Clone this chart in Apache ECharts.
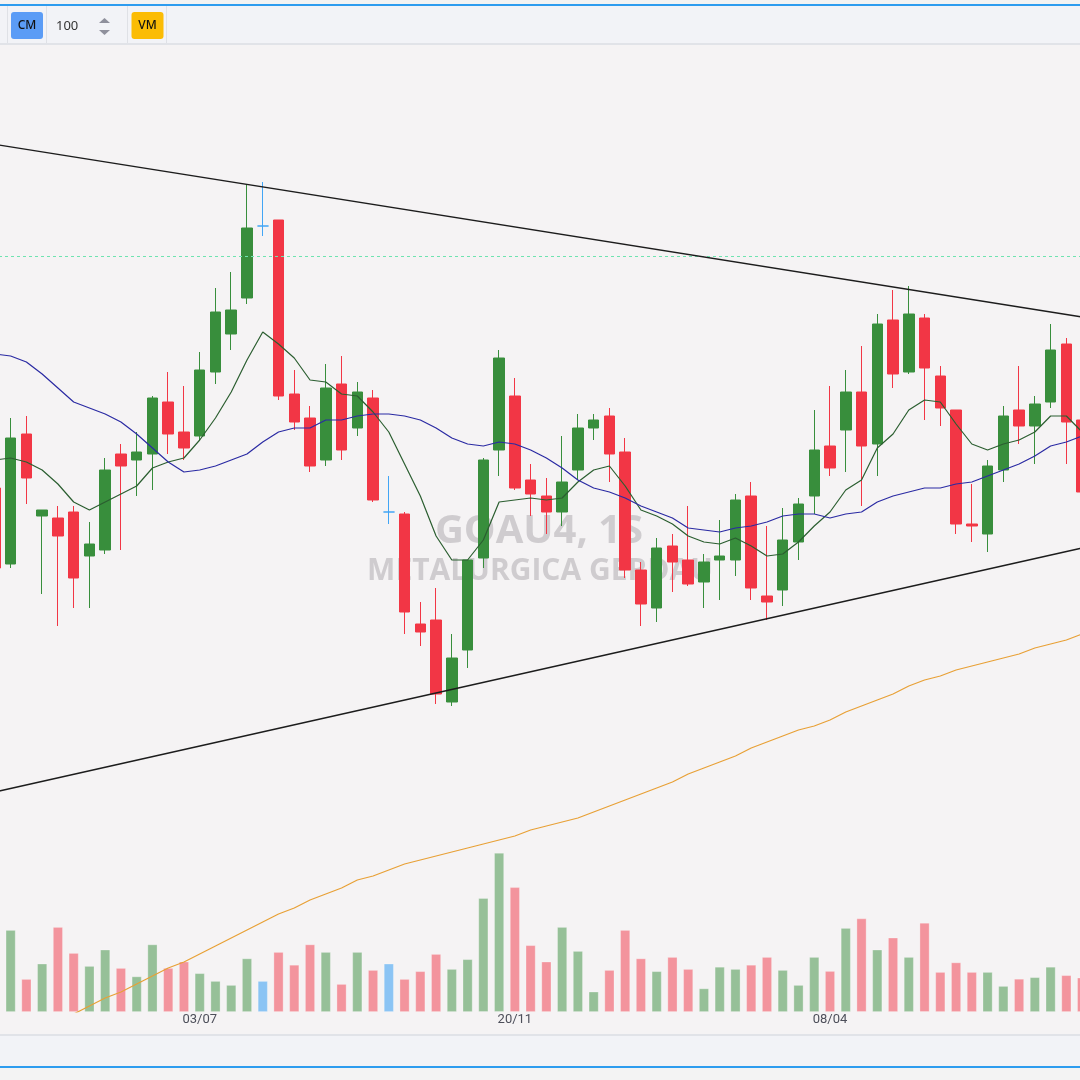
<!DOCTYPE html>
<html>
<head>
<meta charset="utf-8">
<script src="https://cdn.jsdelivr.net/npm/echarts@6/dist/echarts.min.js"></script>
<style>
html,body{margin:0;padding:0;background:#f5f3f4;overflow:hidden;width:1080px;height:1080px;position:relative}
#chart{position:absolute;left:-13px;top:0;width:1103px;height:1080px}
</style>
</head>
<body>
<div id="chart"></div>
<script>
// Weekly candles (GOAU4, 1S)
const DATES = ['03/04','10/04','17/04','24/04','01/05','08/05','15/05','22/05','29/05','05/06','12/06','19/06','26/06',
  '03/07','10/07','17/07','24/07','31/07','07/08','14/08','21/08','28/08','04/09','11/09','18/09','25/09',
  '02/10','09/10','16/10','23/10','30/10','06/11','13/11','20/11','27/11','04/12','11/12','18/12','25/12',
  '01/01','08/01','15/01','22/01','29/01','05/02','12/02','19/02','26/02','04/03','11/03','18/03','25/03',
  '01/04','08/04','15/04','22/04','29/04','06/05','13/05','20/05','27/05','03/06','10/06','17/06','24/06',
  '01/07','08/07','15/07','22/07','29/07'];
const OPEN  = [11.56,11.18,11.83,11.42,11.41,11.44,11.22,11.25,11.73,11.70,11.73,11.99,11.84,11.82,12.14,12.33,12.51,12.87,12.90,12.03,11.91,11.70,12.08,11.86,12.01,11.44,11.43,10.88,10.90,10.49,10.75,11.21,11.75,12.02,11.60,11.52,11.44,11.65,11.86,11.92,11.74,11.15,10.96,11.27,11.20,11.09,11.20,11.20,11.52,11.02,11.05,11.29,11.52,11.77,11.85,12.04,11.78,12.40,12.14,12.41,12.12,11.95,11.38,11.33,11.65,11.95,11.87,11.99,12.28,11.90];
const CLOSE = [11.16,11.81,11.61,11.45,11.32,11.11,11.28,11.65,11.67,11.74,12.01,11.83,11.76,12.15,12.44,12.45,12.86,12.87,12.02,11.89,11.67,12.06,11.75,12.04,11.50,11.44,10.94,10.84,10.53,10.71,11.20,11.70,12.21,11.56,11.53,11.44,11.59,11.86,11.90,11.73,11.15,10.98,11.26,11.19,11.08,11.19,11.22,11.50,11.06,10.99,11.30,11.48,11.75,11.66,12.04,11.77,12.38,12.13,12.43,12.16,11.96,11.38,11.37,11.67,11.92,11.87,11.98,12.25,11.89,11.54];
const LOW   = [11.10,11.16,11.48,11.03,10.87,10.96,10.96,11.23,11.25,11.52,11.55,11.73,11.70,11.80,12.08,12.25,12.48,12.82,12.00,11.85,11.64,11.67,11.70,11.82,11.49,11.38,10.83,10.77,10.48,10.47,10.66,11.16,11.62,11.55,11.42,11.33,11.37,11.60,11.80,11.59,11.11,10.87,10.89,11.04,11.07,10.96,11.00,11.12,11.00,10.90,10.97,11.20,11.43,11.62,11.64,11.47,11.62,12.06,12.13,11.90,11.87,11.33,11.29,11.24,11.59,11.78,11.68,11.96,11.68,11.50];
const HIGH  = [11.65,11.91,11.92,11.45,11.47,11.47,11.39,11.71,11.78,11.84,12.02,12.14,12.07,12.24,12.56,12.64,13.08,13.09,12.90,12.15,11.97,12.18,12.22,12.09,12.05,11.62,11.44,10.99,11.06,10.83,11.20,11.71,12.25,12.11,11.68,11.61,11.82,11.93,11.93,11.96,11.81,11.19,11.31,11.33,11.47,11.23,11.40,11.53,11.59,11.37,11.46,11.51,11.95,12.07,12.15,12.27,12.43,12.55,12.57,12.43,12.17,11.95,11.58,11.70,11.97,12.17,12.02,12.38,12.31,11.93];
// Volume, millions
const VOLUME = [12.0,20.5,8.25,12.1,21.25,14.75,11.5,15.6,11.0,8.9,16.9,11.0,12.6,9.7,7.75,6.75,13.4,7.75,15.0,11.8,16.9,15.0,7.0,15.0,10.5,12.1,8.25,10.2,14.5,10.75,13.2,28.5,39.8,31.2,16.7,12.6,21.25,15.25,5.1,10.5,20.5,13.4,10.2,13.75,10.75,5.9,11.3,10.75,11.8,13.75,10.5,6.75,13.75,10.25,21.0,23.4,15.6,18.6,13.75,22.3,10.0,12.4,10.0,10.0,6.5,8.3,8.7,11.3,9.2,8.6];
// Moving averages
const MA_SHORT = [11.70,11.71,11.69,11.65,11.58,11.49,11.45,11.49,11.53,11.57,11.66,11.69,11.71,11.80,11.91,12.04,12.20,12.34,12.28,12.21,12.10,12.09,12.03,12.02,11.94,11.84,11.68,11.52,11.32,11.20,11.20,11.30,11.49,11.50,11.51,11.50,11.51,11.59,11.65,11.67,11.57,11.45,11.42,11.38,11.32,11.29,11.28,11.31,11.27,11.22,11.23,11.29,11.37,11.44,11.55,11.60,11.76,11.83,11.95,12.00,11.99,11.88,11.78,11.75,11.78,11.80,11.84,11.92,11.92,11.84];
const MA_MID   = [12.23,12.22,12.19,12.13,12.06,11.99,11.96,11.93,11.89,11.83,11.76,11.69,11.64,11.65,11.67,11.70,11.73,11.79,11.84,11.86,11.86,11.90,11.90,11.92,11.93,11.93,11.92,11.90,11.86,11.81,11.78,11.77,11.79,11.78,11.75,11.71,11.66,11.60,11.56,11.54,11.51,11.47,11.44,11.41,11.36,11.35,11.34,11.36,11.37,11.39,11.42,11.43,11.43,11.41,11.43,11.44,11.49,11.52,11.54,11.56,11.56,11.58,11.59,11.62,11.65,11.68,11.72,11.77,11.79,11.82];
const MA_LONG  = [null,null,null,null,8.89,8.93,8.97,9.01,9.04,9.08,9.12,9.16,9.19,9.23,9.27,9.31,9.35,9.39,9.43,9.46,9.50,9.53,9.56,9.60,9.62,9.65,9.68,9.70,9.72,9.74,9.76,9.78,9.80,9.82,9.85,9.87,9.89,9.91,9.94,9.97,10.00,10.03,10.06,10.09,10.13,10.16,10.19,10.22,10.26,10.29,10.32,10.35,10.37,10.40,10.44,10.47,10.50,10.53,10.57,10.60,10.62,10.65,10.67,10.69,10.71,10.73,10.76,10.78,10.80,10.83];
// Trend lines: value at first and last visible week
const TREND_UPPER = [13.278, 12.415];
const TREND_LOWER = [10.04, 11.26];
const ALERT_PRICE = 12.72;
const TICK_LABELS = ['03/07','20/11','08/04'];
const WATERMARK_SYMBOL = 'GOAU4, 1S';
const WATERMARK_NAME = 'METALURGICA GERDAU';

const UP = '#388e3c', DOWN = '#f23645', DOJI = '#42a5f5';

const candleData = DATES.map((d, i) => {
  const v = [OPEN[i], CLOSE[i], LOW[i], HIGH[i]];
  if (OPEN[i] === CLOSE[i]) {
    return {value: v, itemStyle: {color: DOJI, color0: DOJI, borderColor: DOJI, borderColor0: DOJI, borderColorDoji: DOJI}};
  }
  return v;
});
const volData = VOLUME.map((v, i) => {
  let c = 'rgba(33,150,243,0.5)';
  if (CLOSE[i] > OPEN[i]) c = 'rgba(56,142,60,0.5)';
  else if (CLOSE[i] < OPEN[i]) c = 'rgba(242,54,69,0.5)';
  return {value: v, itemStyle: {color: c}};
});

const FONT = '"Noto Sans", "Open Sans", sans-serif';
// page coordinates; the chart canvas is shifted 13px to the left
const pageItems = [
  {type:'rect', silent:true, shape:{x:-20,y:0,width:1130,height:45}, style:{fill:'#f2f3f7'}},
  {type:'rect', silent:true, shape:{x:-20,y:0,width:1130,height:4}, style:{fill:'#f3f3f3'}},
  {type:'rect', silent:true, shape:{x:-20,y:4,width:1130,height:2}, style:{fill:'#2d9cef'}},
  {type:'rect', silent:true, shape:{x:-20,y:43,width:1130,height:2}, style:{fill:'#e1e3e8'}},
  {type:'line', silent:true, shape:{x1:7.5,y1:6,x2:7.5,y2:43}, style:{stroke:'#dfe1e6',lineWidth:1}},
  {type:'line', silent:true, shape:{x1:46.5,y1:6,x2:46.5,y2:43}, style:{stroke:'#dfe1e6',lineWidth:1}},
  {type:'line', silent:true, shape:{x1:127.5,y1:6,x2:127.5,y2:43}, style:{stroke:'#dfe1e6',lineWidth:1}},
  {type:'line', silent:true, shape:{x1:166.5,y1:6,x2:166.5,y2:43}, style:{stroke:'#dfe1e6',lineWidth:1}},
  {type:'rect', silent:true, shape:{x:11,y:12,width:32,height:27,r:3}, style:{fill:'#5b9cf6'}},
  {type:'text', silent:true, x:27, y:26, style:{text:'CM', font:'500 12px '+FONT, fill:'#111', align:'center', verticalAlign:'middle', textAlign:'center', textVerticalAlign:'middle'}},
  {type:'text', silent:true, x:56, y:26, style:{text:'100', font:'13px '+FONT, fill:'#333', align:'left', verticalAlign:'middle', textAlign:'left', textVerticalAlign:'middle'}},
  {type:'polygon', silent:true, shape:{points:[[99,23],[110,23],[104.5,18]]}, style:{fill:'#8f909c'}},
  {type:'polygon', silent:true, shape:{points:[[99,30],[110,30],[104.5,35]]}, style:{fill:'#8f909c'}},
  {type:'rect', silent:true, shape:{x:131.5,y:12,width:32,height:27,r:3}, style:{fill:'#fbbc05'}},
  {type:'text', silent:true, x:147.5, y:26, style:{text:'VM', font:'500 12px '+FONT, fill:'#111', align:'center', verticalAlign:'middle', textAlign:'center', textVerticalAlign:'middle'}},
  {type:'rect', silent:true, shape:{x:-20,y:1034,width:1130,height:2}, style:{fill:'#e1e3e8'}},
  {type:'rect', silent:true, shape:{x:-20,y:1036,width:1130,height:30}, style:{fill:'#f2f3f7'}},
  {type:'rect', silent:true, shape:{x:-20,y:1066,width:1130,height:2}, style:{fill:'#2d9cef'}},
  {type:'rect', silent:true, shape:{x:-20,y:1068,width:1130,height:12}, style:{fill:'#f3f3f3'}},
  {type:'text', silent:true, x:539, y:532, style:{text:WATERMARK_SYMBOL, font:'bold 40px "Open Sans", sans-serif', fill:'#cfcccf', align:'center', verticalAlign:'middle', textAlign:'center', textVerticalAlign:'middle'}},
  {type:'text', silent:true, x:540, y:571, style:{text:WATERMARK_NAME, font:'bold 30px "Open Sans", sans-serif', fill:'#cfcccf', align:'center', verticalAlign:'middle', textAlign:'center', textVerticalAlign:'middle'}}
];

const chart = echarts.init(document.getElementById('chart'), null, {renderer:'canvas'});
chart.setOption({
  animation: false,
  backgroundColor: '#f5f3f4',
  graphic: [{type:'group', x:13, y:0, children: pageItems}],
  grid: [
    {left: 0, right: 0, top: 45, bottom: 68},
    {left: 0, right: 0, top: 812, bottom: 68}
  ],
  xAxis: [
    {type:'category', gridIndex:0, data: DATES, boundaryGap:true, axisLine:{show:false}, axisTick:{show:false}, axisLabel:{show:false}, splitLine:{show:false}},
    {type:'category', gridIndex:1, data: DATES, boundaryGap:true, axisLine:{show:false}, axisTick:{show:false}, splitLine:{show:false},
      axisLabel:{show:true, interval:(idx, val) => TICK_LABELS.indexOf(val) >= 0, color:'#4d4f5a', fontSize:13, fontFamily:'Roboto, sans-serif', margin:1, hideOverlap:false}}
  ],
  yAxis: [
    {type:'value', gridIndex:0, min:8.94, max:13.775, show:false, splitLine:{show:false}},
    {type:'value', gridIndex:1, min:0, max:50, show:false, splitLine:{show:false}}
  ],
  series: [
    {type:'bar', name:'Volume', xAxisIndex:1, yAxisIndex:1, data: volData, barWidth:10, z:1,
      itemStyle:{borderColor:'rgba(255,255,255,0.35)', borderWidth:0.8}},
    {type:'line', name:'MA longa', xAxisIndex:0, yAxisIndex:0, data: MA_LONG, symbol:'none', z:2, clip:true,
      lineStyle:{color:'#e8a035', width:1.2}},
    {type:'candlestick', name:'GOAU4', xAxisIndex:0, yAxisIndex:0, data: candleData, barWidth:11, z:3,
      itemStyle:{color:UP, color0:DOWN, borderColor:UP, borderColor0:DOWN, borderWidth:1},
      markLine:{silent:true, symbol:'none', label:{show:false},
        lineStyle:{color:'#6fe3b0', type:[3,3], width:1},
        data:[{yAxis: ALERT_PRICE}]}},
    {type:'line', name:'MA curta', xAxisIndex:0, yAxisIndex:0, data: MA_SHORT, symbol:'none', z:4,
      lineStyle:{color:'#2b5e30', width:1.2}},
    {type:'line', name:'MA média', xAxisIndex:0, yAxisIndex:0, data: MA_MID, symbol:'none', z:4,
      lineStyle:{color:'#2a2aa3', width:1.2}},
    {type:'line', name:'LTB', xAxisIndex:0, yAxisIndex:0, symbol:'none', z:5,
      data:[[DATES[0], TREND_UPPER[0]], [DATES[DATES.length-1], TREND_UPPER[1]]],
      lineStyle:{color:'#1c1c1c', width:1.3}},
    {type:'line', name:'LTA', xAxisIndex:0, yAxisIndex:0, symbol:'none', z:5,
      data:[[DATES[0], TREND_LOWER[0]], [DATES[DATES.length-1], TREND_LOWER[1]]],
      lineStyle:{color:'#1c1c1c', width:1.3}}
  ]
});
</script>
</body>
</html>
